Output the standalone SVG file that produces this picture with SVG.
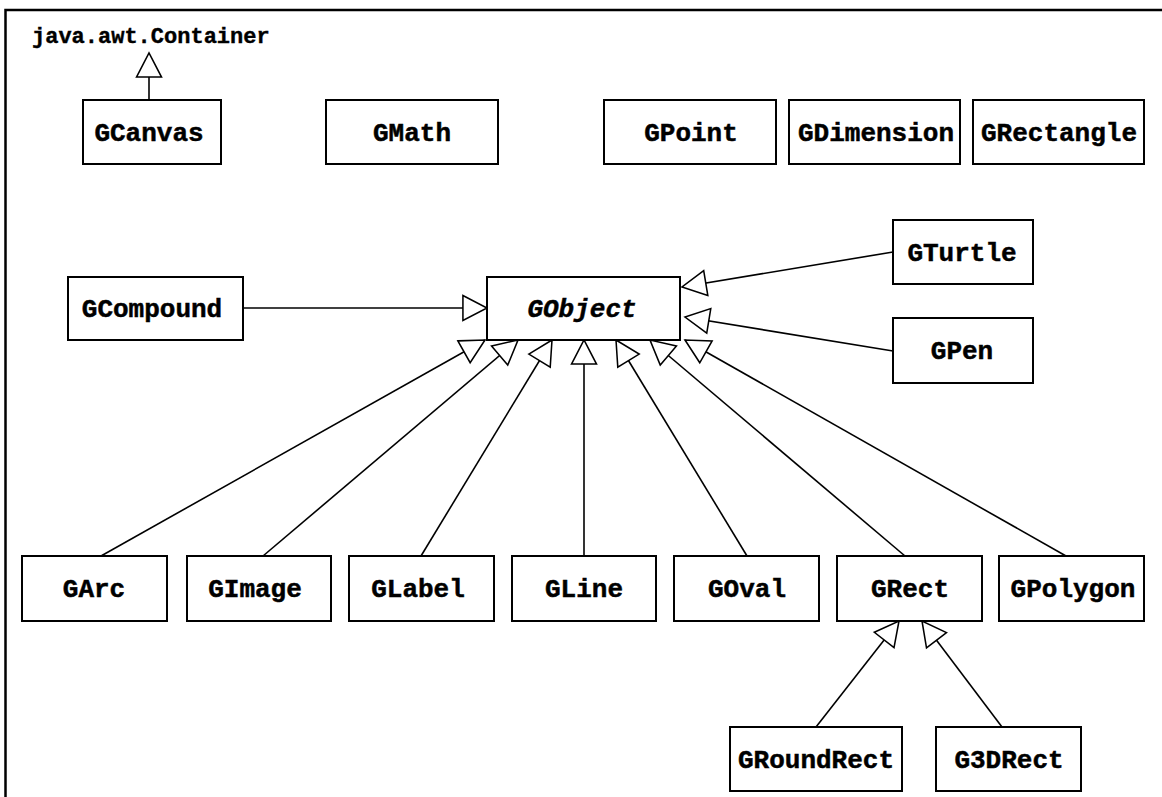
<svg xmlns="http://www.w3.org/2000/svg" width="1162" height="797" viewBox="0 0 1162 797">
<style>
.box{fill:#fff;stroke:#000;stroke-width:2}
.lbl{font-family:"Liberation Mono","Courier New",monospace;font-weight:bold;font-size:26px;fill:#000;stroke:#000;stroke-width:0.5;text-anchor:middle}
.it{font-style:italic}
.small{font-family:"Liberation Mono","Courier New",monospace;font-weight:bold;font-size:22px;fill:#000;stroke:#000;stroke-width:0.4}
.con{stroke:#000;stroke-width:1.6;fill:none;marker-end:url(#tri)}
.frame{stroke:#000;stroke-width:2.5;fill:none}
</style>
<defs>
<marker id="tri" markerUnits="userSpaceOnUse" markerWidth="26" markerHeight="28" viewBox="-1 -1 27 28" refX="25" refY="13" orient="auto" overflow="visible">
<path d="M0,0 L25,13 L0,26 Z" fill="#fff" stroke="#000" stroke-width="1.6" stroke-linejoin="miter"/>
</marker>
</defs>
<rect width="1162" height="797" fill="#fff"/>
<path class="frame" d="M5.5,797 V10 H1162"/>
<text class="small" x="32" y="43">java.awt.Container</text>
<g id="connectors">
<path class="con" d="M149,100 V53"/>
<path class="con" d="M243,308 H487"/>
<path class="con" d="M893,252 L682,287"/>
<path class="con" d="M893,351 L685,317"/>
<path class="con" d="M101,556 L485,340"/>
<path class="con" d="M263,556 L518,340"/>
<path class="con" d="M421,556 L552,340"/>
<path class="con" d="M584,556 L584,340"/>
<path class="con" d="M747,556 L616,340"/>
<path class="con" d="M905,556 L650,340"/>
<path class="con" d="M1066,556 L685,340"/>
<path class="con" d="M816,727 L899,621"/>
<path class="con" d="M1002,727 L922,621"/>
</g>
<g id="GCanvas"><rect class="box" x="83" y="100" width="138" height="64"/><text class="lbl" x="149" y="141">GCanvas</text></g>
<g id="GMath"><rect class="box" x="326" y="100" width="172" height="64"/><text class="lbl" x="412" y="141">GMath</text></g>
<g id="GPoint"><rect class="box" x="604" y="100" width="172" height="64"/><text class="lbl" x="691" y="141">GPoint</text></g>
<g id="GDimension"><rect class="box" x="789" y="100" width="171" height="64"/><text class="lbl" x="876" y="141">GDimension</text></g>
<g id="GRectangle"><rect class="box" x="973" y="100" width="171" height="64"/><text class="lbl" x="1059" y="141">GRectangle</text></g>
<g id="GTurtle"><rect class="box" x="893" y="220" width="140" height="64"/><text class="lbl" x="962" y="261">GTurtle</text></g>
<g id="GCompound"><rect class="box" x="68" y="277" width="175" height="63"/><text class="lbl" x="152" y="317">GCompound</text></g>
<g id="GObject"><rect class="box" x="487" y="277" width="193" height="63"/><text class="lbl it" x="582" y="317">GObject</text></g>
<g id="GPen"><rect class="box" x="893" y="318" width="140" height="65"/><text class="lbl" x="962" y="359">GPen</text></g>
<g id="GArc"><rect class="box" x="22" y="556" width="145" height="65"/><text class="lbl" x="94" y="597">GArc</text></g>
<g id="GImage"><rect class="box" x="187" y="556" width="144" height="65"/><text class="lbl" x="255" y="597">GImage</text></g>
<g id="GLabel"><rect class="box" x="349" y="556" width="145" height="65"/><text class="lbl" x="418" y="597">GLabel</text></g>
<g id="GLine"><rect class="box" x="512" y="556" width="144" height="65"/><text class="lbl" x="584" y="597">GLine</text></g>
<g id="GOval"><rect class="box" x="674" y="556" width="145" height="65"/><text class="lbl" x="747" y="597">GOval</text></g>
<g id="GRect"><rect class="box" x="837" y="556" width="145" height="65"/><text class="lbl" x="910" y="597">GRect</text></g>
<g id="GPolygon"><rect class="box" x="999" y="556" width="145" height="65"/><text class="lbl" x="1073" y="597">GPolygon</text></g>
<g id="GRoundRect"><rect class="box" x="730" y="727" width="172" height="64"/><text class="lbl" x="816" y="768">GRoundRect</text></g>
<g id="G3DRect"><rect class="box" x="936" y="727" width="145" height="64"/><text class="lbl" x="1009" y="768">G3DRect</text></g>
</svg>
